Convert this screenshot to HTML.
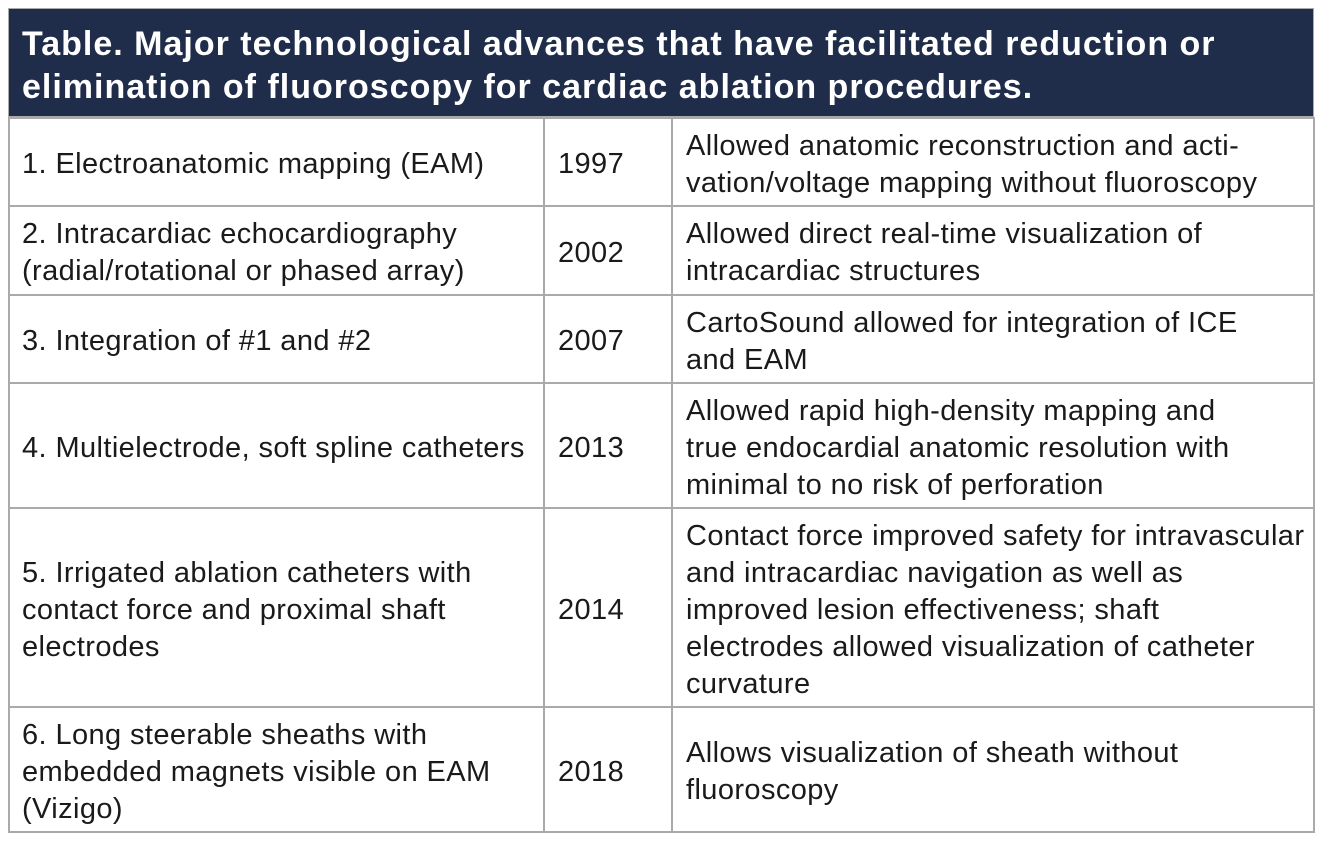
<!DOCTYPE html>
<html><head><style>
body{margin:0;width:1322px;height:842px;background:#fff;position:relative;font-family:"Liberation Sans",sans-serif;overflow:hidden}
.hd{position:absolute;left:8px;top:8px;width:1306px;height:109px;background:#1f2d4b;border:1px solid #aaa;box-sizing:border-box}
.ht{position:absolute;left:22px;top:23px;color:#fff;font-weight:bold;font-size:34px;line-height:43px;white-space:nowrap;letter-spacing:1px}
.h{position:absolute;height:2px;background:#aaa;left:8px;width:1306px}
.v{position:absolute;width:2px;background:#aaa;top:117px;height:716px}
.t{position:absolute;font-size:29px;line-height:37px;letter-spacing:0.4px;color:#1a1a1a;white-space:nowrap;display:flex;flex-direction:column;justify-content:center;padding-top:5px;box-sizing:border-box}
</style></head><body>
<div class="hd"></div>
<div class="ht">Table. Major technological advances that have facilitated reduction or<br>elimination of fluoroscopy for cardiac ablation procedures.</div>
<div class="h" style="top:117px"></div>
<div class="h" style="top:205px"></div>
<div class="h" style="top:294px"></div>
<div class="h" style="top:382px"></div>
<div class="h" style="top:507px"></div>
<div class="h" style="top:706px"></div>
<div class="h" style="top:831px"></div>
<div class="v" style="left:8px"></div>
<div class="v" style="left:543px"></div>
<div class="v" style="left:671px"></div>
<div class="v" style="left:1313px"></div>

<div class="t" style="left:22px;top:119px;height:86px">1. Electroanatomic mapping (EAM)</div>
<div class="t" style="left:558px;top:119px;height:86px">1997</div>
<div class="t" style="left:686px;top:119px;height:86px">Allowed anatomic reconstruction and acti-<br>vation/voltage mapping without fluoroscopy</div>

<div class="t" style="left:22px;top:207px;height:87px">2. Intracardiac echocardiography<br>(radial/rotational or phased array)</div>
<div class="t" style="left:558px;top:207px;height:87px">2002</div>
<div class="t" style="left:686px;top:207px;height:87px">Allowed direct real-time visualization of<br>intracardiac structures</div>

<div class="t" style="left:22px;top:296px;height:86px">3. Integration of #1 and #2</div>
<div class="t" style="left:558px;top:296px;height:86px">2007</div>
<div class="t" style="left:686px;top:296px;height:86px">CartoSound allowed for integration of ICE<br>and EAM</div>

<div class="t" style="left:22px;top:384px;height:123px">4. Multielectrode, soft spline catheters</div>
<div class="t" style="left:558px;top:384px;height:123px">2013</div>
<div class="t" style="left:686px;top:384px;height:123px">Allowed rapid high-density mapping and<br>true endocardial anatomic resolution with<br>minimal to no risk of perforation</div>

<div class="t" style="left:22px;top:509px;height:197px">5. Irrigated ablation catheters with<br>contact force and proximal shaft<br>electrodes</div>
<div class="t" style="left:558px;top:509px;height:197px">2014</div>
<div class="t" style="left:686px;top:509px;height:197px">Contact force improved safety for intravascular<br>and intracardiac navigation as well as<br>improved lesion effectiveness; shaft<br>electrodes allowed visualization of catheter<br>curvature</div>

<div class="t" style="left:22px;top:708px;height:123px">6. Long steerable sheaths with<br>embedded magnets visible on EAM<br>(Vizigo)</div>
<div class="t" style="left:558px;top:708px;height:123px">2018</div>
<div class="t" style="left:686px;top:708px;height:123px">Allows visualization of sheath without<br>fluoroscopy</div>
</body></html>
